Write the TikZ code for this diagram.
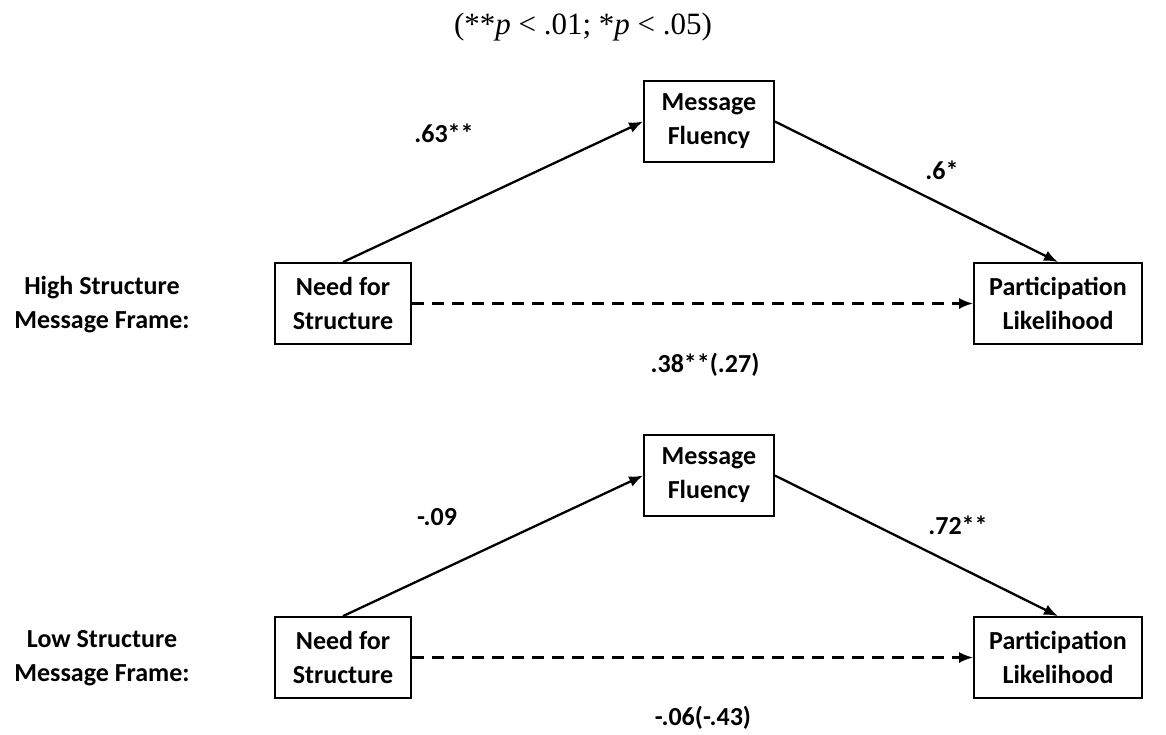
\documentclass[tikz,border=0pt]{standalone}
\usepackage{fontspec}
\setmainfont{Carlito}
\newfontfamily\timesfont{Liberation Serif}
\usetikzlibrary{arrows.meta}
\begin{document}
\begin{tikzpicture}[x=1pt,y=-1pt,
  every node/.style={font=\fontsize{26}{34}\selectfont\bfseries, inner sep=0pt},
  varbox/.style={draw, line width=1.8pt, align=center, minimum height=81pt},
  lbl/.style={align=center},
  path/.style={line width=2.3pt, -{Latex[length=14pt,width=11pt]}},
  dpath/.style={path, dash pattern=on 12pt off 8pt}]
\useasboundingbox (0,0) rectangle (1166,734);
\node[font=\timesfont\fontsize{31}{36}\selectfont] (title) at (583,27) {(**\textit{p} < .01; *\textit{p} < .05)};
% top
\node[lbl] (hs) at (102,305) {High Structure\\Message Frame:};
\node[varbox, minimum width=136pt] (need1) at (343,303.5) {Need for\\Structure};
\node[varbox, minimum width=130pt] (mf1) at (709,121.5) {Message\\Fluency};
\node[varbox, minimum width=168pt] (pl1) at (1058,303.5) {Participation\\Likelihood};
\draw[path] (need1.north) -- (mf1.west);
\draw[path] (mf1.east) -- (pl1.north);
\draw[dpath] (need1.east) -- (pl1.west);
\node (a1) at (444,133) {.63**};
\node (b1) at (942,170) {.6*};
\node (c1) at (705,365) {.38**(.27)};
% bottom
\node[lbl] (ls) at (102,658) {Low Structure\\Message Frame:};
\node[varbox, minimum width=136pt] (need2) at (343,657.5) {Need for\\Structure};
\node[varbox, minimum width=130pt] (mf2) at (709,475.5) {Message\\Fluency};
\node[varbox, minimum width=168pt] (pl2) at (1058,657.5) {Participation\\Likelihood};
\draw[path] (need2.north) -- (mf2.west);
\draw[path] (mf2.east) -- (pl2.north);
\draw[dpath] (need2.east) -- (pl2.west);
\node (a2) at (437,517) {-.09};
\node (b2) at (958,525) {.72**};
\node (c2) at (703,718) {-.06(-.43)};
\end{tikzpicture}
\end{document}
